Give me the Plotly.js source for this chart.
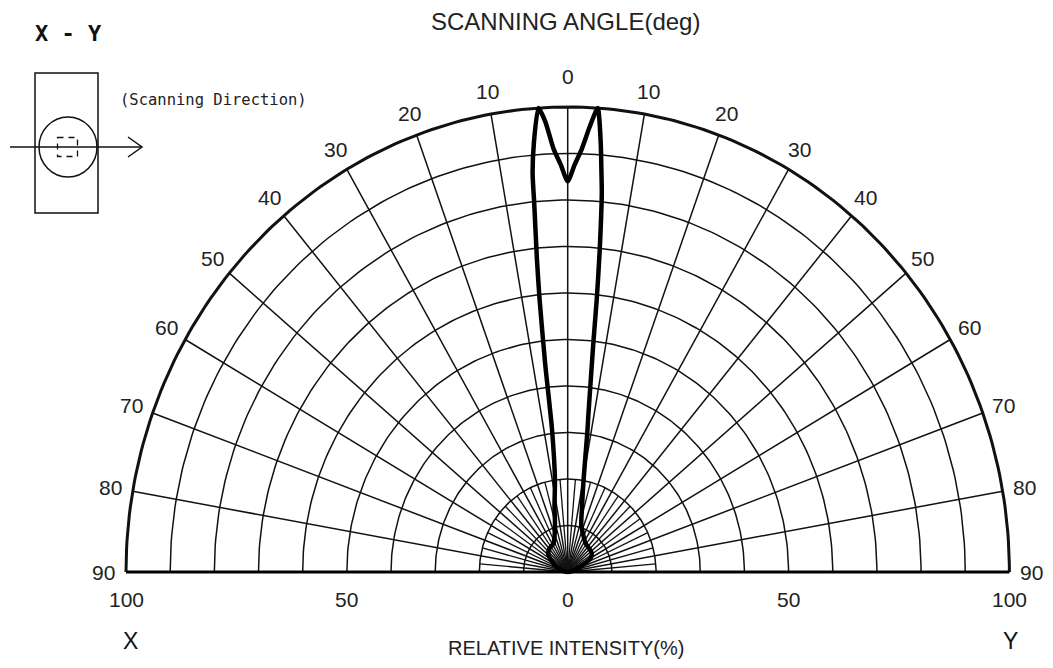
<!DOCTYPE html>
<html><head><meta charset="utf-8">
<script src="https://cdn.plot.ly/plotly-3.0.1.min.js"></script>
<style>html,body{margin:0;padding:0;background:#fff;} #chart{width:1053px;height:668px;}</style>
</head><body><div id="chart"></div>
<script>
// ---- data ----
const scanAngleDeg = [-90, -80, -65, -50, -40, -27, -15.9, -12, -8.3, -6.6, -6.5, -6.2, -5.9, -5.45, -5.3, -4.7, -3.8, -3, -2, -1, 0,
  1, 2, 3, 3.9, 4.6, 5.1, 5.4, 6.0, 6.4, 6.7, 7.9, 8.4, 10.3, 13.5, 17, 25, 33, 45, 53, 60, 68, 80, 90];
const relativeIntensity = [0, 1, 3, 5.7, 6.5, 7.0, 10.5, 14.4, 20, 31, 45, 59, 68, 80, 86, 93, 100, 97, 91, 87.5, 84,
  87.5, 91, 96, 100, 93, 86, 82, 69, 59, 50, 34, 30.5, 20, 13.7, 10.5, 8.5, 7.4, 7, 6.8, 6, 3, 1, 0];

const angleTickValues = [-90, -80, -70, -60, -50, -40, -30, -20, -10, 0, 10, 20, 30, 40, 50, 60, 70, 80, 90];
const angleTickLabels = ['90', '80', '70', '60', '50', '40', '30', '20', '10', '0', '10', '20', '30', '40', '50', '60', '70', '80', '90'];
const intensityTickValues = [-100, -50, 0, 50, 100];
const intensityTickLabels = ['100', '50', '0', '50', '100'];
const gridRadii = [10, 20, 30, 40, 50, 60, 70, 80, 90];
const outerRadius = 100;
const minorAngleValues = [-85, -75, -65, -55, -45, -35, -25, -15, -5, 5, 15, 25, 35, 45, 55, 65, 75, 85];
const minorAngleReach = 20;

// ---- helpers ----
function polarX(deg, r) { return r * Math.sin(deg * Math.PI / 180); }
function polarY(deg, r) { return r * Math.cos(deg * Math.PI / 180); }
const W = 1053, H = 668;
function px(v) { return v / W; }
function py(v) { return 1 - v / H; }

function arcTrace(radii, width) {
  const xs = [], ys = [];
  radii.forEach(r => {
    for (let a = -90; a <= 90; a += 1) { xs.push(polarX(a, r)); ys.push(polarY(a, r)); }
    xs.push(null); ys.push(null);
  });
  return {type: 'scatter', mode: 'lines', x: xs, y: ys, hoverinfo: 'skip',
    line: {color: '#111', width: width}};
}
function spokeTrace(angles, reach, width) {
  const xs = [], ys = [];
  angles.forEach(a => {
    xs.push(0, polarX(a, reach), null); ys.push(0, polarY(a, reach), null);
  });
  return {type: 'scatter', mode: 'lines', x: xs, y: ys, hoverinfo: 'skip',
    line: {color: '#111', width: width}};
}

const majorSpokes = angleTickValues.filter(a => Math.abs(a) < 90);
const traces = [
  arcTrace(gridRadii, 1.5),
  spokeTrace(majorSpokes, outerRadius, 1.5),
  spokeTrace(minorAngleValues, minorAngleReach, 1.3),
  arcTrace([outerRadius], 3),
  {type: 'scatter', mode: 'lines', x: [-outerRadius, outerRadius], y: [0, 0], hoverinfo: 'skip',
    line: {color: '#000', width: 3.2}},
  {type: 'scatter', mode: 'lines', name: 'Relative intensity',
    x: scanAngleDeg.map((a, i) => polarX(a, relativeIntensity[i])),
    y: scanAngleDeg.map((a, i) => polarY(a, relativeIntensity[i])),
    line: {color: '#000', width: 4.5, shape: 'spline', smoothing: 0.6}}
];

const numFont = {family: 'Liberation Sans, Arial, sans-serif', size: 21, color: '#222'};
const annotations = [];
angleTickValues.forEach((a, i) => {
  const r = a === 0 ? 106.5 : 105;
  annotations.push({x: polarX(a, r), y: polarY(a, r), xref: 'x', yref: 'y', text: angleTickLabels[i],
    showarrow: false, xanchor: 'center', yanchor: 'middle', font: numFont});
});
intensityTickValues.forEach((v, i) => {
  annotations.push({x: v, y: -6, xref: 'x', yref: 'y', text: intensityTickLabels[i],
    showarrow: false, xanchor: 'center', yanchor: 'middle', font: numFont});
});
annotations.push(
  {x: px(565), y: py(21), xref: 'paper', yref: 'paper', text: 'SCANNING ANGLE(deg)', showarrow: false,
    xanchor: 'center', yanchor: 'middle', font: {family: 'Liberation Sans, Arial, sans-serif', size: 24, color: '#222'}},
  {x: px(566), y: py(648), xref: 'paper', yref: 'paper', text: 'RELATIVE INTENSITY(%)', showarrow: false,
    xanchor: 'center', yanchor: 'middle', font: {family: 'Liberation Sans, Arial, sans-serif', size: 20, color: '#222'}},
  {x: px(130), y: py(641), xref: 'paper', yref: 'paper', text: 'X', showarrow: false,
    xanchor: 'center', yanchor: 'middle', font: {family: 'Liberation Sans, Arial, sans-serif', size: 23, color: '#111'}},
  {x: px(1010), y: py(641), xref: 'paper', yref: 'paper', text: 'Y', showarrow: false,
    xanchor: 'center', yanchor: 'middle', font: {family: 'Liberation Sans, Arial, sans-serif', size: 23, color: '#111'}},
  {x: px(68), y: py(33), xref: 'paper', yref: 'paper', text: '<b>X - Y</b>', showarrow: false,
    xanchor: 'center', yanchor: 'middle', font: {family: 'DejaVu Sans Mono, Liberation Mono, monospace', size: 22, color: '#111'}},
  {x: px(118), y: py(100), xref: 'paper', yref: 'paper', text: '(Scanning Direction)', showarrow: false,
    xanchor: 'left', yanchor: 'middle', font: {family: 'DejaVu Sans Mono, Liberation Mono, monospace', size: 15.5, color: '#222'}}
);

const shapes = [
  {type: 'rect', xref: 'paper', yref: 'paper', x0: px(35), x1: px(98), y0: py(73), y1: py(213), line: {color: '#111', width: 1.5}},
  {type: 'circle', xref: 'paper', yref: 'paper', x0: px(39), x1: px(97), y0: py(117), y1: py(177), line: {color: '#111', width: 1.5}},
  {type: 'rect', xref: 'paper', yref: 'paper', x0: px(57.5), x1: px(77.5), y0: py(137.5), y1: py(156.5), line: {color: '#111', width: 1.3, dash: '6px,5px'}},
  {type: 'line', xref: 'paper', yref: 'paper', x0: px(10), x1: px(142), y0: py(147), y1: py(147), line: {color: '#111', width: 1.5}},
  {type: 'path', xref: 'paper', yref: 'paper', path: `M ${px(128)} ${py(137)} L ${px(142)} ${py(147)} L ${px(128)} ${py(157)}`, line: {color: '#111', width: 1.5}}
];

const layout = {
  width: W, height: H,
  margin: {l: 0, r: 0, t: 0, b: 0},
  paper_bgcolor: '#fff', plot_bgcolor: '#fff',
  showlegend: false,
  xaxis: {range: [-567.7 / 4.417, (W - 567.7) / 4.417], visible: false, fixedrange: true},
  yaxis: {range: [(572 - H) / 4.65, 572 / 4.65], visible: false, fixedrange: true},
  annotations: annotations,
  shapes: shapes
};
Plotly.newPlot('chart', traces, layout, {displayModeBar: false, staticPlot: true});
</script>
</body></html>
